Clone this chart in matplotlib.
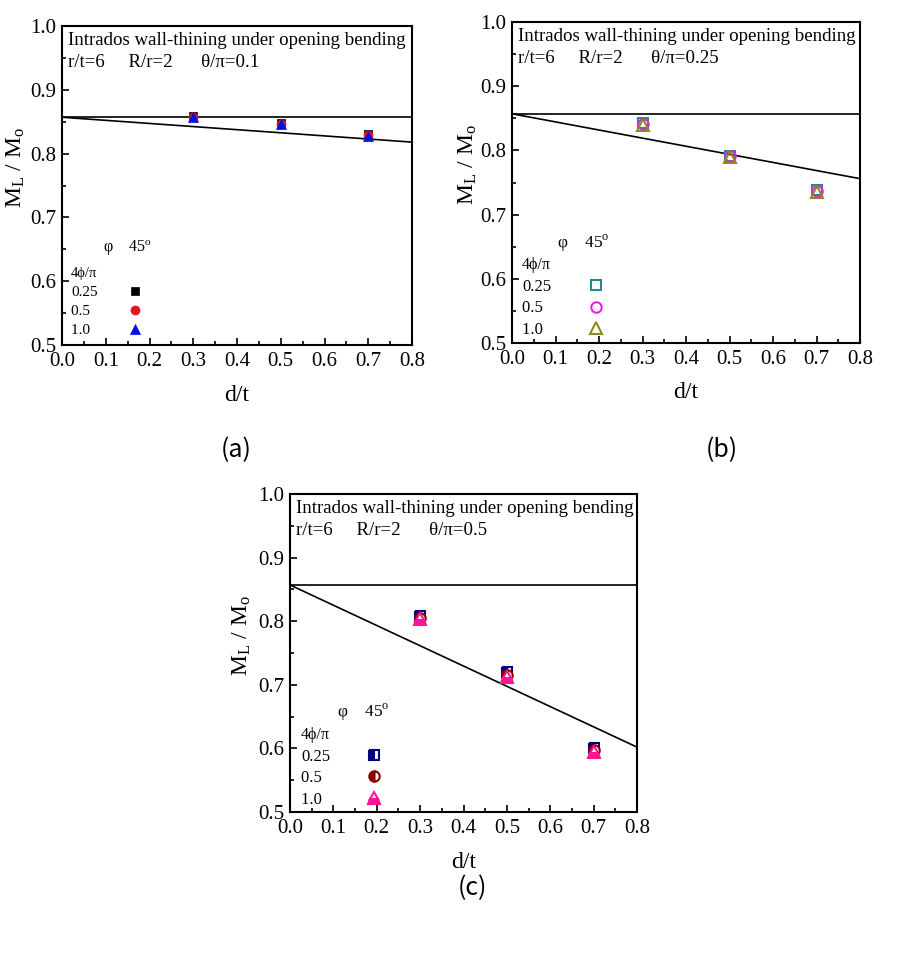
import matplotlib.pyplot as plt
from matplotlib.lines import Line2D
from matplotlib.ticker import MultipleLocator

plt.rcParams['font.family'] = ['Liberation Serif', 'DejaVu Serif']
plt.rcParams['mathtext.fontset'] = 'custom'
plt.rcParams['mathtext.rm'] = 'Liberation Serif'

# d/t values of the FE points
d_t = [0.3, 0.5, 0.7]
phi_labels = ['0.25', '0.5', '1.0']

# ML/Mo for each 4phi/pi, per panel
a_vals = [[0.859, 0.848, 0.830], [0.858, 0.847, 0.829], [0.857, 0.846, 0.828]]
b_vals = [[0.842, 0.792, 0.738], [0.841, 0.791, 0.737], [0.839, 0.789, 0.735]]
c_vals = [[0.808, 0.720, 0.601], [0.805, 0.716, 0.597], [0.803, 0.713, 0.594]]

# intact limit load and the fitted straight lines
limit_load = 0.857
line_x = [0.0, 0.8]
a_line = [0.857, 0.818]
b_line = [0.857, 0.756]
c_line = [0.857, 0.602]

theta = ['0.1', '0.25', '0.5']
captions = ['(a)', '(b)', '(c)']

fig = plt.figure(figsize=(9.01, 9.66), dpi=100)
W, H = 901, 966


def add_ax(l, t, r, b):
    return fig.add_axes([l / W, 1 - b / H, (r - l) / W, (b - t) / H])


panels = [
    dict(box=(62, 26, 412, 345), vals=a_vals, line=a_line, th=theta[0], cap=captions[0],
         colors=['black', '#e8141c', '#0010e0'], markers=['s', 'o', '^'],
         fill=['full', 'full', 'full'], ms=[6, 6.5, 7.5], lsz=11, tsz=10.5, htp=1.96,
         leg=(0.026, 0.243), head=(0.117, 0.304), ylx=-0.10, capxy=(236, 450), xly=-0.125),
    dict(box=(512, 22, 860, 343), vals=b_vals, line=b_line, th=theta[1], cap=captions[1],
         colors=['#1e8c8c', '#e81ee8', '#8c8c1e'], markers=['s', 'o', '^'],
         fill=['none', 'none', 'none'], ms=[7, 7.5, 8.5], lsz=12, tsz=11.5, htp=2.18,
         leg=(0.029, 0.2675), head=(0.13, 0.311), ylx=-0.095, capxy=(722, 450), xly=-0.12),
    dict(box=(290, 494, 637, 812), vals=c_vals, line=c_line, th=theta[2], cap=captions[2],
         colors=['#000080', '#8b0000', '#ff1493'], markers=['s', 'o', '^'],
         fill=['left', 'left', 'bottom'], ms=[7, 7.5, 8.5], lsz=12, tsz=11.5, htp=2.12,
         leg=(0.0315, 0.2675), head=(0.135, 0.314), ylx=-0.107, capxy=(472, 888), xly=-0.125),
]

for p in panels:
    ax = add_ax(*p['box'])
    ax.axhline(limit_load, color='black', lw=1.2)
    ax.plot(line_x, p['line'], color='black', lw=1.2)
    handles = []
    for vals, col, mk, fs, ms in zip(p['vals'], p['colors'], p['markers'], p['fill'], p['ms']):
        if fs == 'none':
            kw = dict(markerfacecolor='none', markeredgewidth=1.5)
        elif fs == 'full':
            kw = dict(markeredgewidth=0.5)
        else:
            kw = dict(fillstyle=fs, markerfacecoloralt='white', markeredgewidth=1.5)
        ax.plot(d_t, vals, linestyle='none', marker=mk, color=col, markersize=ms, **kw)
        handles.append(Line2D([], [], linestyle='none', marker=mk, color=col, markersize=ms, **kw))

    # pad short labels with figure spaces so the text column reads left-aligned
    width = max(len(s) for s in phi_labels)
    labels = [s + '\u2007' * (width - len(s)) for s in phi_labels]
    leg = ax.legend(handles, labels, title='4\u03d5/\u03c0', markerfirst=False,
                    loc='upper left', bbox_to_anchor=p['leg'], frameon=False,
                    fontsize=p['lsz'], title_fontsize=p['tsz'], handlelength=1.0,
                    handletextpad=p['htp'], labelspacing=0.34, borderpad=0, borderaxespad=0)
    leg._legend_box.align = 'left'
    ax.text(p['head'][0], p['head'][1], '\u03c6    45$^\\mathregular{o}$', transform=ax.transAxes,
            fontsize=p['lsz'] + 0.5, ha='left', va='center')

    ax.text(0.017, 0.955, 'Intrados wall-thining under opening bending', transform=ax.transAxes,
            fontsize=13.6, ha='left', va='center')
    ax.text(0.017, 0.885, 'r/t=6     R/r=2      \u03b8/\u03c0=' + p['th'], transform=ax.transAxes,
            fontsize=13.6, ha='left', va='center')

    ax.set_xlim(0, 0.8)
    ax.set_ylim(0.5, 1.0)
    ax.xaxis.set_major_locator(MultipleLocator(0.1))
    ax.xaxis.set_minor_locator(MultipleLocator(0.05))
    ax.yaxis.set_major_locator(MultipleLocator(0.1))
    ax.yaxis.set_minor_locator(MultipleLocator(0.05))
    ax.xaxis.set_major_formatter(lambda v, pos: f'{v:.1f}')
    ax.yaxis.set_major_formatter(lambda v, pos: f'{v:.1f}')
    ax.tick_params(which='both', direction='in', top=False, right=False, labelsize=15, width=1.2)
    ax.tick_params(which='major', length=5)
    ax.tick_params(axis='x', which='major', pad=5)
    ax.tick_params(axis='y', which='major', pad=4)
    ax.tick_params(which='minor', length=3)
    for s in ax.spines.values():
        s.set_linewidth(1.5)

    ax.set_xlabel('d/t', fontsize=17)
    ax.xaxis.set_label_coords(0.5, p['xly'])
    ax.set_ylabel('$\\mathregular{M_L}$ / $\\mathregular{M_o}$', fontsize=17)
    ax.yaxis.set_label_coords(p['ylx'], 0.555)

    fig.text(p['capxy'][0] / W, 1 - p['capxy'][1] / H, p['cap'], fontsize=18,
             family=['Noto Sans CJK KR', 'DejaVu Sans'], ha='center', va='center')

fig.savefig('out.png', dpi=100)
